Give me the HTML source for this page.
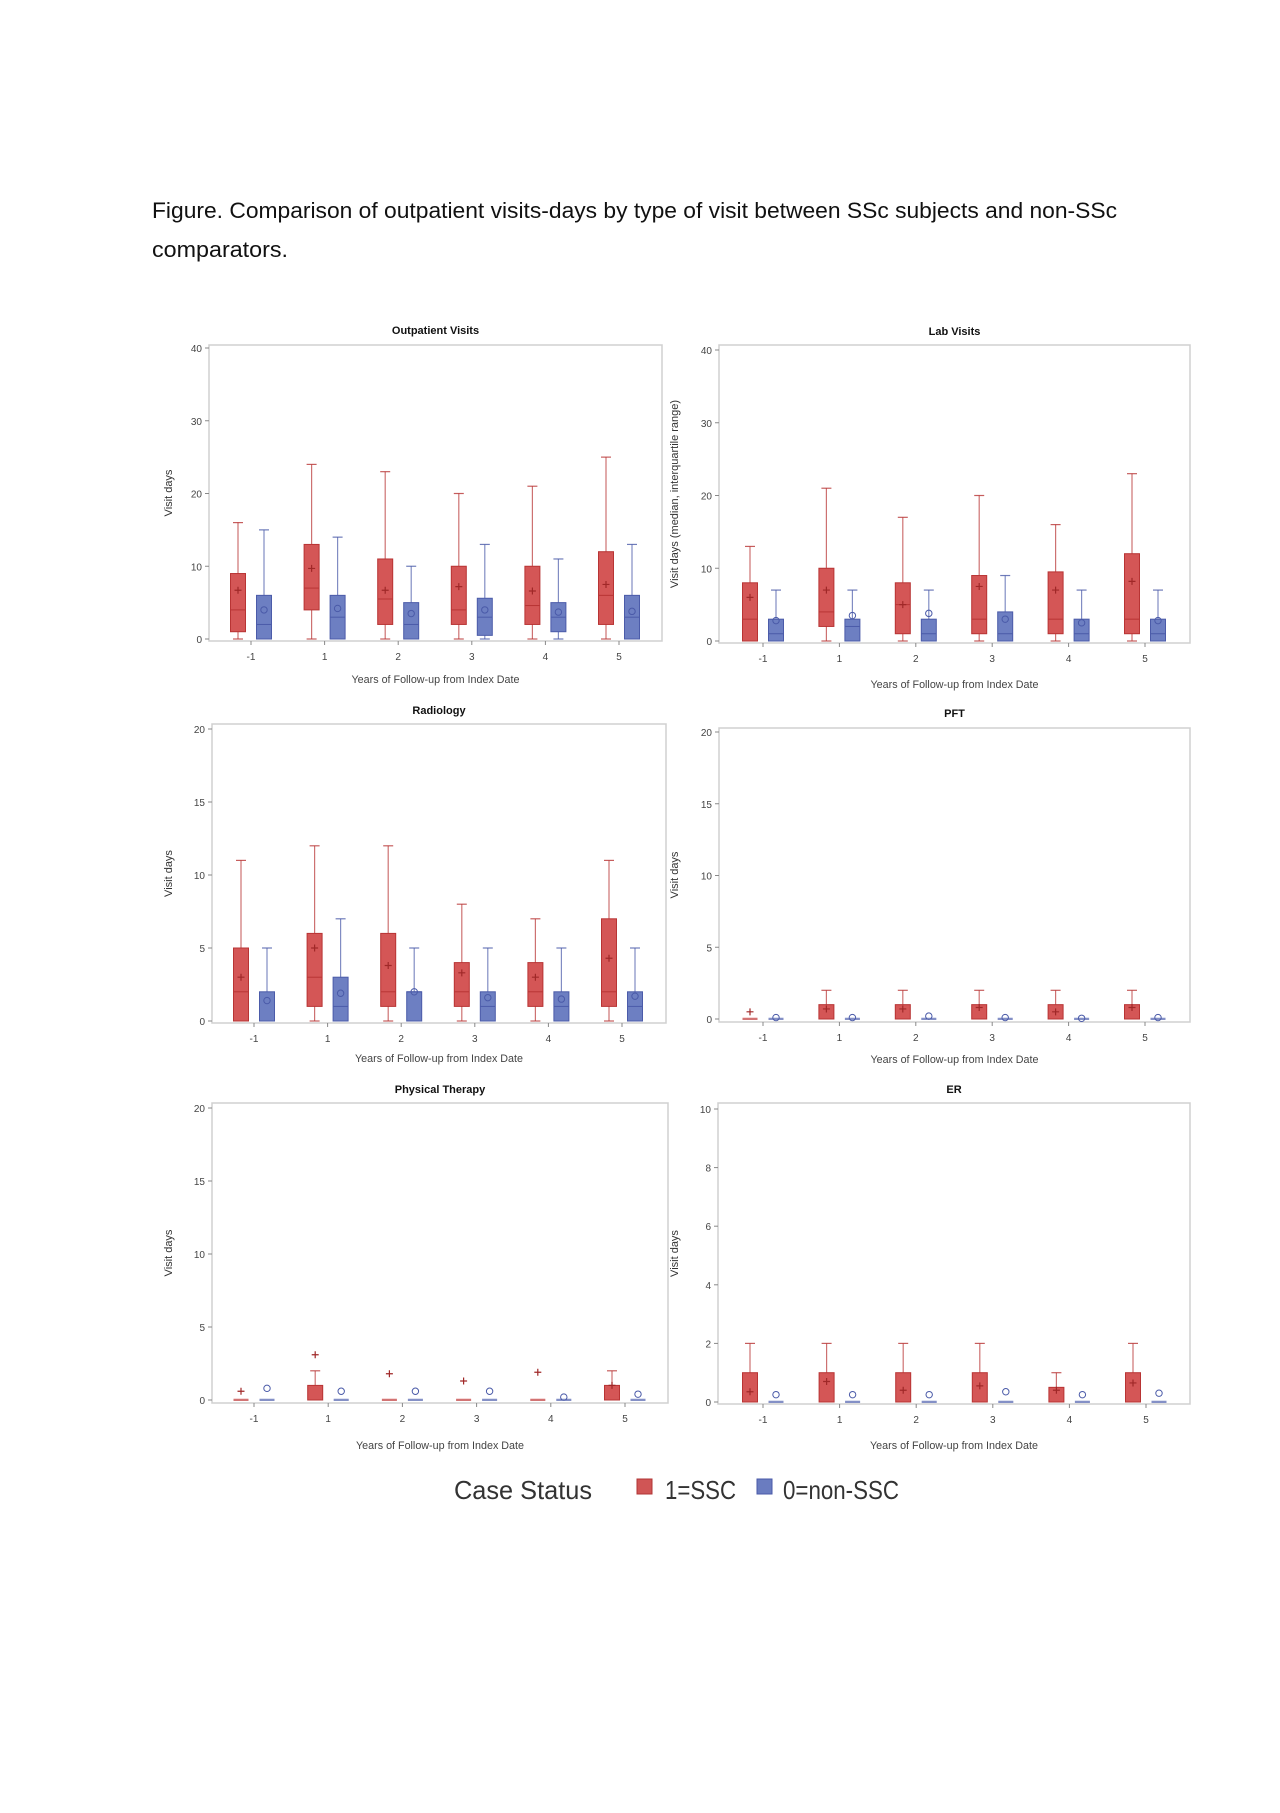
<!DOCTYPE html>
<html><head><meta charset="utf-8"><style>
html,body{margin:0;padding:0;background:#fff;}
svg{display:block;font-family:"Liberation Sans",sans-serif;}
</style></head><body>
<svg id="root" width="1280" height="1813" viewBox="0 0 1280 1813" xmlns="http://www.w3.org/2000/svg">
<rect x="0" y="0" width="1280" height="1813" fill="#fff"/>
<text x="152" y="218" font-size="22" fill="#111" textLength="965" lengthAdjust="spacingAndGlyphs">Figure. Comparison of outpatient visits-days by type of visit between SSc subjects and non-SSc</text>
<text x="152" y="257" font-size="22" fill="#111" textLength="136" lengthAdjust="spacingAndGlyphs">comparators.</text>
<g id="charts"></g>
<g>
<text x="454" y="1499" font-size="26" fill="#333" textLength="138" lengthAdjust="spacingAndGlyphs">Case Status</text>
<rect x="637" y="1479" width="15" height="15" fill="#d05555" stroke="#b03535"/>
<text x="665" y="1499" font-size="26" fill="#333" textLength="71" lengthAdjust="spacingAndGlyphs">1=SSC</text>
<rect x="757" y="1479" width="15" height="15" fill="#6a7cc0" stroke="#4a5aa8"/>
<text x="783" y="1499" font-size="26" fill="#333" textLength="116" lengthAdjust="spacingAndGlyphs">0=non-SSC</text>
</g>
</svg>
<script>
// shared categories
var categories = ["-1","1","2","3","4","5"];
// each row: [min, q1, median, q3, max, mean]
var outpatientSSC = [[0,1,4,9,16,6.7],[0,4,7,13,24,9.7],[0,2,5.5,11,23,6.7],[0,2,4,10,20,7.2],[0,2,4.6,10,21,6.6],[0,2,6,12,25,7.5]];
var outpatientNon = [[0,0,2,6,15,4],[0,0,3,6,14,4.2],[0,0,2,5,10,3.5],[0,0.5,3,5.6,13,4],[0,1,3,5,11,3.7],[0,0,3,6,13,3.8]];
var labSSC = [[0,0,3,8,13,6],[0,2,4,10,21,7],[0,1,5,8,17,5],[0,1,3,9,20,7.5],[0,1,3,9.5,16,7],[0,1,3,12,23,8.2]];
var labNon = [[0,0,1,3,7,2.8],[0,0,2,3,7,3.5],[0,0,1,3,7,3.8],[0,0,1,4,9,3],[0,0,1,3,7,2.5],[0,0,1,3,7,2.8]];
var radSSC = [[0,0,2,5,11,3],[0,1,3,6,12,5],[0,1,2,6,12,3.8],[0,1,2,4,8,3.3],[0,1,2,4,7,3],[0,1,2,7,11,4.3]];
var radNon = [[0,0,0,2,5,1.4],[0,0,1,3,7,1.9],[0,0,2,2,5,2],[0,0,1,2,5,1.6],[0,0,1,2,5,1.5],[0,0,1,2,5,1.7]];
var pftSSC = [[0,0,0,0,0,0.5],[0,0,0,1,2,0.7],[0,0,0,1,2,0.7],[0,0,0,1,2,0.8],[0,0,0,1,2,0.5],[0,0,0,1,2,0.8]];
var pftNon = [[0,0,0,0,0,0.1],[0,0,0,0,0,0.1],[0,0,0,0,0,0.2],[0,0,0,0,0,0.1],[0,0,0,0,0,0.05],[0,0,0,0,0,0.1]];
var ptSSC = [[0,0,0,0,0,0.6],[0,0,0,1,2,3.1],[0,0,0,0,0,1.8],[0,0,0,0,0,1.3],[0,0,0,0,0,1.9],[0,0,0,1,2,1]];
var ptNon = [[0,0,0,0,0,0.8],[0,0,0,0,0,0.6],[0,0,0,0,0,0.6],[0,0,0,0,0,0.6],[0,0,0,0,0,0.2],[0,0,0,0,0,0.4]];
var erSSC = [[0,0,0,1,2,0.35],[0,0,0,1,2,0.7],[0,0,0,1,2,0.4],[0,0,0,1,2,0.55],[0,0,0,0.5,1,0.4],[0,0,0,1,2,0.65]];
var erNon = [[0,0,0,0,0,0.25],[0,0,0,0,0,0.25],[0,0,0,0,0,0.25],[0,0,0,0,0,0.35],[0,0,0,0,0,0.25],[0,0,0,0,0,0.3]];
var ticks40 = [0,10,20,30,40];
var ticks20 = [0,5,10,15,20];
var ticks10 = [0,2,4,6,8,10];

var NS = "http://www.w3.org/2000/svg";
var root = document.getElementById("charts");
function mk(tag, attrs, parent){
  var e = document.createElementNS(NS, tag);
  for (var k in attrs) e.setAttribute(k, attrs[k]);
  (parent||root).appendChild(e);
  return e;
}
var panels = [
 {key:"outpatient",title:"Outpatient Visits",ssc:outpatientSSC,non:outpatientNon,ticks:ticks40,max:40,fl:209,ft:345,fr:662,fb:641,y0:639,yT:348,x0:251,x5:619,tt:334,xt:683,yl:"Visit days",ylx:172},
 {key:"lab",title:"Lab Visits",ssc:labSSC,non:labNon,ticks:ticks40,max:40,fl:719,ft:345,fr:1190,fb:643,y0:641,yT:350,x0:763,x5:1145,tt:335,xt:688,yl:"Visit days (median, interquartile range)",ylx:678},
 {key:"radiology",title:"Radiology",ssc:radSSC,non:radNon,ticks:ticks20,max:20,fl:212,ft:724,fr:666,fb:1023,y0:1021,yT:729,x0:254,x5:622,tt:714,xt:1062,yl:"Visit days",ylx:172},
 {key:"pft",title:"PFT",ssc:pftSSC,non:pftNon,ticks:ticks20,max:20,fl:719,ft:728,fr:1190,fb:1022,y0:1019,yT:732,x0:763,x5:1145,tt:717,xt:1063,yl:"Visit days",ylx:678},
 {key:"physical-therapy",title:"Physical Therapy",ssc:ptSSC,non:ptNon,ticks:ticks20,max:20,fl:212,ft:1103,fr:668,fb:1403,y0:1400,yT:1108,x0:254,x5:625,tt:1093,xt:1449,yl:"Visit days",ylx:172},
 {key:"er",title:"ER",ssc:erSSC,non:erNon,ticks:ticks10,max:10,fl:718,ft:1103,fr:1190,fb:1404,y0:1402,yT:1109,x0:763,x5:1146,tt:1093,xt:1449,yl:"Visit days",ylx:678}
];
panels.forEach(function(p){
  var g = mk("g",{});
  
  
  function ys(v){ return p.y0 + (p.yT - p.y0) * v / p.max; }
  function xs(i){ return p.x0 + (p.x5 - p.x0) * i / (categories.length - 1); }
  var fr = mk("rect",{x:p.fl,y:p.ft,width:p.fr-p.fl,height:p.fb-p.ft,fill:"none",stroke:"#d0d0d0","stroke-width":1.5},g);
  
  
  var t = mk("text",{x:(p.fl+p.fr)/2,y:p.tt,"text-anchor":"middle","font-size":11,"font-weight":"bold",fill:"#111"},g);
  t.textContent = p.title;
  
  
  p.ticks.forEach(function(v){
    var y = ys(v);
    var tl = mk("line",{x1:p.fl-4,x2:p.fl,y1:y,y2:y,stroke:"#888"},g);
    
    
    var tx = mk("text",{x:p.fl-7,y:y+4,"text-anchor":"end","font-size":10,fill:"#444"},g);
    tx.textContent = v;
    
    
  });
  categories.forEach(function(c,i){
    var x = xs(i);
    var tl = mk("line",{x1:x,x2:x,y1:p.fb,y2:p.fb+4,stroke:"#888"},g);
    
    
    var tx = mk("text",{x:x,y:p.fb+19,"text-anchor":"middle","font-size":10,fill:"#444"},g);
    tx.textContent = c;
    
    
  });
  var xt = mk("text",{x:(p.fl+p.fr)/2,y:p.xt,"text-anchor":"middle","font-size":11,fill:"#444",textLength:168,lengthAdjust:"spacingAndGlyphs"},g);
  xt.textContent = "Years of Follow-up from Index Date";
  
  
  var cy = (p.ft+p.fb)/2;
  var yt = mk("text",{x:p.ylx,y:cy,"text-anchor":"middle","font-size":11,fill:"#333",transform:"rotate(-90 "+p.ylx+" "+cy+")"},g);
  yt.textContent = p.yl;
  
  
  function box(d, x, fill, edge, isRed, name){
    var bg = mk("g",{},g);
    
    
    var w = 15;
    if (d[4] > d[3]) {
      mk("line",{x1:x,x2:x,y1:ys(d[3]),y2:ys(d[4]),stroke:edge,"stroke-opacity":0.7,"stroke-width":1.2},bg);
      mk("line",{x1:x-5,x2:x+5,y1:ys(d[4]),y2:ys(d[4]),stroke:edge,"stroke-opacity":0.8,"stroke-width":1.2},bg);
    }
    if (d[1] > d[0]) {
      mk("line",{x1:x,x2:x,y1:ys(d[0]),y2:ys(d[1]),stroke:edge,"stroke-opacity":0.7,"stroke-width":1.2},bg);
      mk("line",{x1:x-5,x2:x+5,y1:ys(d[0]),y2:ys(d[0]),stroke:edge,"stroke-opacity":0.8,"stroke-width":1.2},bg);
    }
    var h = ys(d[1]) - ys(d[3]);
    if (h > 0.5) {
      mk("rect",{x:x-w/2,y:ys(d[3]),width:w,height:h,fill:fill,stroke:edge,"stroke-width":1},bg);
    } else {
      mk("rect",{x:x-w/2,y:ys(d[3])-1.5,width:w,height:2.5,fill:fill,"fill-opacity":0.45},bg);
    }
    mk("line",{x1:x-w/2,x2:x+w/2,y1:ys(d[2]),y2:ys(d[2]),stroke:edge,"stroke-width":1},bg);
    var my = ys(d[5]);
    if (isRed) {
      mk("path",{d:"M"+(x-3.5)+" "+my+"H"+(x+3.5)+"M"+x+" "+(my-3.5)+"V"+(my+3.5),stroke:"#a02828","stroke-width":1.2},bg);
    } else {
      mk("circle",{cx:x,cy:my,r:3.2,fill:"none",stroke:"#4a5aa8","stroke-width":1},bg);
    }
  }
  categories.forEach(function(c,i){
    box(p.ssc[i], xs(i)-13, "#d45656", "#b83434", true, "box-ssc-"+c);
    box(p.non[i], xs(i)+13, "#6d7fc2", "#4b5ba9", false, "box-non-ssc-"+c);
  });
});
</script>
</body></html>
